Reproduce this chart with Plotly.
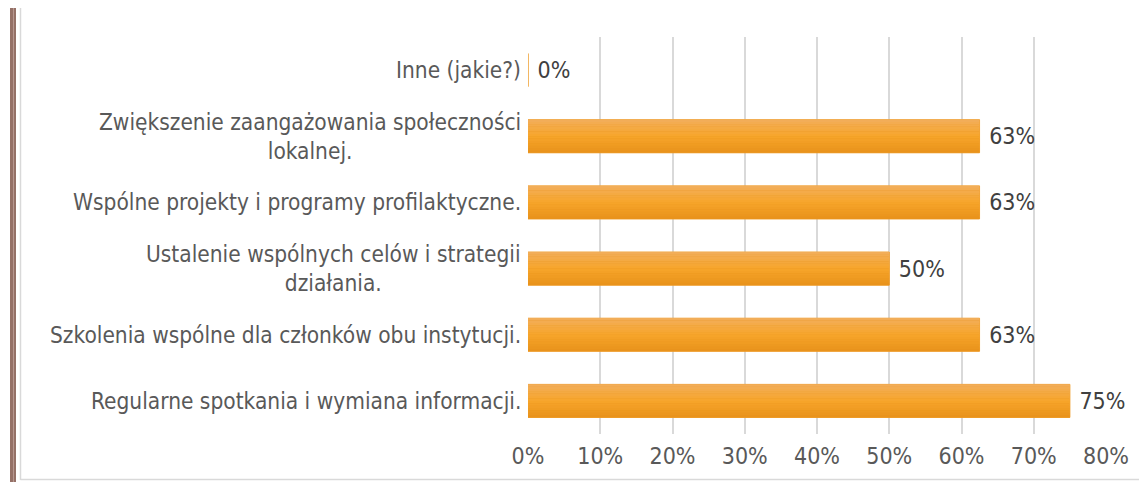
import plotly.graph_objects as go

categories = [
    "Regularne spotkania i wymiana informacji.",
    "Szkolenia wspólne dla członków obu instytucji.",
    "Ustalenie wspólnych celów i strategii<br>działania.",
    "Wspólne projekty i programy profilaktyczne.",
    "Zwiększenie zaangażowania społeczności<br>lokalnej.",
    "Inne (jakie?)",
]
values = [0.75, 0.625, 0.5, 0.625, 0.625, 0.0]
tick_vals = [0, 0.1, 0.2, 0.3, 0.4, 0.5, 0.6, 0.7, 0.8]
tick_text = ["0%", "10%", "20%", "30%", "40%", "50%", "60%", "70%", "80%"]

FONT = "DejaVu Sans Condensed"
TXT = "#595959"
OFF = 8  # page body margin
W, H = 1147 - OFF, 482 - OFF
ML, MR, MT, MB = 528 - OFF, 41, 37 - OFF, 48
PW = W - ML - MR
PH = H - MT - MB

fig = go.Figure()
# base bar (full height), thin outline so a 0 value still shows a line
fig.add_trace(go.Bar(
    y=categories, x=values, orientation="h", width=0.5, offset=-0.25,
    marker=dict(color="#E8921B", line=dict(color="#F0A030", width=1)),
    texttemplate="\u00a0%{x:.0%}", textposition="outside",
    textfont=dict(family=FONT, size=23, color="#404040"),
    cliponaxis=False, hoverinfo="skip", showlegend=False,
))

# vertical gradient made of thin overlay bands
def lerp(c1, c2, t):
    return "#%02X%02X%02X" % tuple(round(a + (b - a) * t) for a, b in zip(c1, c2))

top_c = (0xF2, 0xAE, 0x5C)
mid_c = (0xF7, 0xA5, 0x2A)
bot_c = (0xE8, 0x92, 0x1B)
N = 14
bw = 0.5 / N
for i in range(N):
    lo = -0.25 + i * bw
    t = (i + 0.5) / N  # 0 bottom, 1 top
    if t < 0.5:
        col = lerp(bot_c, mid_c, t / 0.5)
    else:
        col = lerp(mid_c, top_c, (t - 0.5) / 0.5)
    fig.add_trace(go.Bar(
        y=categories, x=values, orientation="h", width=bw * 1.05, offset=lo,
        marker=dict(color=col, line=dict(width=0)),
        hoverinfo="skip", showlegend=False,
    ))

# category labels as centered annotations
for c in categories:
    fig.add_annotation(
        x=0, xref="paper", y=c, yref="y", xanchor="right", yanchor="middle",
        xshift=-5, text=c, showarrow=False, align="center",
        font=dict(family=FONT, size=22.5, color=TXT),
    )

def px_x(p):
    return (p - OFF - ML) / PW

def px_y(p):
    return 1 - (p - OFF - MT) / PH

# left decorative frame
fig.add_shape(type="rect", xref="paper", yref="paper",
              x0=px_x(10), x1=px_x(16), y0=px_y(482), y1=px_y(OFF),
              fillcolor="#957167", line=dict(width=0), layer="above")
fig.add_shape(type="line", xref="paper", yref="paper",
              x0=px_x(13.5), x1=px_x(13.5), y0=px_y(482), y1=px_y(OFF),
              line=dict(color="#B89890", width=1), layer="above")
fig.add_shape(type="line", xref="paper", yref="paper",
              x0=px_x(20.5), x1=px_x(20.5), y0=px_y(480), y1=px_y(OFF),
              line=dict(color="#D9D9D9", width=1.5), layer="above")
fig.add_shape(type="line", xref="paper", yref="paper",
              x0=px_x(20.5), x1=px_x(1147), y0=px_y(479.5), y1=px_y(479.5),
              line=dict(color="#D9D9D9", width=1.5), layer="above")

fig.update_layout(
    width=W, height=H, barmode="overlay",
    margin=dict(l=ML, r=MR, t=MT, b=MB, pad=0),
    paper_bgcolor="white", plot_bgcolor="white",
    xaxis=dict(range=[0, 0.8], tickvals=tick_vals, ticktext=tick_text,
               showgrid=True, gridcolor="#D9D9D9", gridwidth=2,
               zeroline=False, showline=False, ticks="",
               ticklabelstandoff=6,
               tickfont=dict(family=FONT, size=23, color=TXT)),
    yaxis=dict(categoryorder="array", categoryarray=categories,
               range=[-0.5, 5.5], showticklabels=False, showgrid=False,
               zeroline=False, showline=False, ticks=""),
    font=dict(family=FONT),
)

fig.write_html("out.html")
